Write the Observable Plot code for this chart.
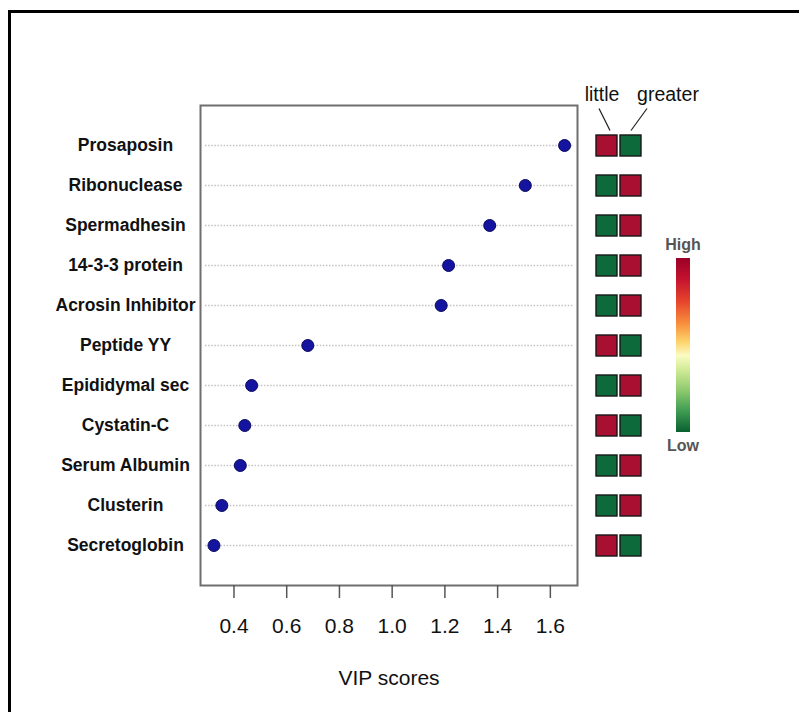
<!DOCTYPE html>
<html><head><meta charset="utf-8">
<script src="https://cdn.jsdelivr.net/npm/d3@7"></script>
<script src="https://cdn.jsdelivr.net/npm/@observablehq/plot@0.6"></script>
<style>
body{margin:0;background:#fff;}
#wrap{position:relative;width:799px;height:712px;overflow:hidden;font-family:"Liberation Sans",Arial,sans-serif;}
#border{position:absolute;left:8px;top:10px;right:-10px;bottom:-10px;border-top:3px solid #000;border-left:3px solid #000;}
.abs{position:absolute;top:0;}
</style></head><body><div id="wrap"><div id="border"></div></div>
<script>
const proteins = ["Prosaposin","Ribonuclease","Spermadhesin","14-3-3 protein","Acrosin Inhibitor","Peptide YY","Epididymal sec","Cystatin-C","Serum Albumin","Clusterin","Secretoglobin"];
const vipScores = [1.654,1.505,1.370,1.214,1.186,0.680,0.467,0.441,0.424,0.354,0.324];
const groups = ["little","greater"];
const littleLevel  = ["High","Low","Low","Low","Low","High","Low","High","Low","Low","High"];
const greaterLevel = ["Low","High","High","High","High","Low","High","Low","High","High","Low"];
const xTicks = [0.4,0.6,0.8,1.0,1.2,1.4,1.6];
const xLabel = "VIP scores";
const legendLabels = ["High","Low"];

const font = '"Liberation Sans", Arial, sans-serif';
const data = proteins.map((p,i)=>({protein:p, vip:vipScores[i]}));
const cells = proteins.flatMap((p,i)=>[
  {protein:p, group:groups[0], level:littleLevel[i]},
  {protein:p, group:groups[1], level:greaterLevel[i]}
]);

const wrap = document.getElementById("wrap");

const main = Plot.plot({
  width: 799, height: 712,
  marginLeft: 200, marginRight: 222, marginTop: 105, marginBottom: 127,
  style: {fontFamily: font, background: "transparent", color: "#111"},
  x: {domain: [0.273, 1.703]},
  y: {type: "point", domain: proteins, padding: 1, axis: null},
  marks: [
    Plot.ruleY(proteins, {y: d=>d, stroke:"#c2c2c2", strokeWidth:1.5, strokeDasharray:"1.5,1.6", insetLeft:5, insetRight:4}),
    Plot.frame({stroke:"#6e6e6e", strokeWidth:2}),
    Plot.axisX({ticks: xTicks, tickSize: 13, tickPadding: 20, fontSize: 21, stroke:"#555", strokeWidth:1.5, fill:"#111", tickFormat: d3.format(".1f"), label: null}),
    Plot.text(proteins, {y: d=>d, frameAnchor:"left", dx:-75, textAnchor:"middle", fontWeight:"bold", fontSize:17.5, fill:"#111"}),
    Plot.dot(data, {x:"vip", y:"protein", r:6, fill:"#1414a0", stroke:"#0a0a5c", strokeWidth:1}),
    Plot.text([xLabel], {frameAnchor:"bottom", dy:93, fontSize:21, lineAnchor:"middle", fill:"#111"})
  ]
});
main.classList.add("abs"); main.style.left = "0px";
wrap.appendChild(main);

const heat = Plot.plot({
  width: 140, height: 712,
  marginLeft: 16, marginRight: 79, marginTop: 105, marginBottom: 127,
  style: {fontFamily: font, background: "transparent"},
  x: {type:"band", domain: groups, paddingInner:0.125, paddingOuter:0, axis:null},
  y: {type:"band", domain: proteins, paddingInner:0.475, paddingOuter:0.7375, axis:null},
  color: {domain: legendLabels, range: ["#a90f31","#0d6b3b"]},
  marks: [
    Plot.cell(cells, {x:"group", y:"protein", fill:"level", stroke:"#161616", strokeWidth:1.4})
  ]
});
heat.classList.add("abs"); heat.style.left = "580px";
wrap.appendChild(heat);

// annotations using the heatmap's own scales
const sx = heat.scale("x"), sy = heat.scale("y");
const cx = g => sx.apply(g) + sx.bandwidth/2;
const top0 = sy.apply(proteins[0]);
const svg = d3.select(heat);
const g = svg.append("g").attr("font-family", font);
g.append("text").attr("x", cx(groups[0]) - 4.5).attr("y", top0 - 34).attr("text-anchor","middle").attr("font-size",19.5).attr("fill","#111").text(groups[0]);
g.append("text").attr("x", cx(groups[1]) + 37.5).attr("y", top0 - 34).attr("text-anchor","middle").attr("font-size",19.5).attr("fill","#111").text(groups[1]);
g.append("line").attr("x1", cx(groups[0]) - 7.5).attr("y1", top0 - 26.5).attr("x2", cx(groups[0]) + 3.5).attr("y2", top0 - 4.5).attr("stroke","#222").attr("stroke-width",1.2);
g.append("line").attr("x1", cx(groups[1]) + 16.5).attr("y1", top0 - 26.5).attr("x2", cx(groups[1]) + 0.5).attr("y2", top0 - 4.5).attr("stroke","#222").attr("stroke-width",1.2);

// colour bar legend
const defs = svg.append("defs");
const grad = defs.append("linearGradient").attr("id","hl").attr("x1",0).attr("y1",0).attr("x2",0).attr("y2",1);
[[0,"#9a0026"],[0.12,"#c4122e"],[0.25,"#e6452c"],[0.38,"#f8913e"],[0.48,"#fdd26a"],[0.56,"#f9fcc2"],[0.64,"#d2eb98"],[0.76,"#8fca6e"],[0.88,"#3e9c52"],[1,"#09602f"]]
  .forEach(([o,c])=>grad.append("stop").attr("offset",o).attr("stop-color",c));
g.append("rect").attr("x",96).attr("y",258).attr("width",14).attr("height",174).attr("fill","url(#hl)");
g.append("text").attr("x",103).attr("y",250).attr("text-anchor","middle").attr("font-size",16).attr("font-weight","bold").attr("fill","#555").text(legendLabels[0]);
g.append("text").attr("x",103).attr("y",451).attr("text-anchor","middle").attr("font-size",16).attr("font-weight","bold").attr("fill","#555").text(legendLabels[1]);
</script></body></html>
